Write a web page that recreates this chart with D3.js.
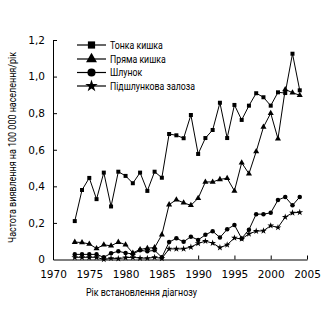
<!DOCTYPE html>
<html><head><meta charset="utf-8">
<script src="https://cdnjs.cloudflare.com/ajax/libs/d3/7.8.5/d3.min.js"></script>
<style>
html,body{margin:0;padding:0;background:#fff;}
svg{display:block;}
text{font-family:Roboto,"Liberation Sans",sans-serif;fill:#000;}
.tick text{font-family:"DejaVu Sans",sans-serif;}
</style></head>
<body>
<script>
const years = d3.range(1973, 2005);
const seriesNames = ["Тонка кишка", "Пряма кишка", "Шлунок", "Підшлункова залоза"];
const tonka = [0.21,0.38,0.446,0.33,0.475,0.29,0.48,0.457,0.417,0.475,0.375,0.48,0.447,0.686,0.679,0.663,0.79,0.577,0.664,0.708,0.857,0.664,0.845,0.763,0.841,0.909,0.887,0.841,0.914,0.91,1.125,0.925];
const pryama = [0.095,0.093,0.085,0.06,0.08,0.075,0.095,0.081,0.036,0.055,0.062,0.065,0.135,0.30,0.327,0.31,0.296,0.335,0.424,0.424,0.438,0.444,0.375,0.529,0.469,0.59,0.724,0.80,0.66,0.93,0.912,0.898];
const shlunok = [0.028,0.028,0.028,0.028,0.012,0.034,0.045,0.036,0.03,0.05,0.045,0.05,0.012,0.095,0.116,0.097,0.125,0.107,0.135,0.155,0.12,0.165,0.189,0.115,0.163,0.248,0.248,0.255,0.325,0.342,0.296,0.342];
const pidshl = [0.012,0.012,0.012,0.012,0.0,0.007,0.005,0.01,0.012,0.008,0.007,0.012,0.006,0.058,0.058,0.058,0.068,0.088,0.10,0.09,0.065,0.08,0.118,0.112,0.14,0.155,0.157,0.185,0.175,0.232,0.255,0.258];
const xTicks = [1970,1975,1980,1985,1990,1995,2000,2005];
const yTicks = [0,0.2,0.4,0.6,0.8,1.0,1.2];
const xTitle = "Рік встановлення діагнозу";
const yTitle = "Частота виявлення на 100 000 населення/рік";

const allSeries = [tonka, pryama, shlunok, pidshl];
const symbols = [d3.symbolSquare, d3.symbolTriangle, d3.symbolCircle, d3.symbolStar];

const W = 330, H = 330;
const svg = d3.select("body").append("svg").attr("width", W).attr("height", H);
const x = d3.scaleLinear().domain([1970, 2005]).range([53, 307]);
const y = d3.scaleLinear().domain([0, 1.2]).range([259.5, 40]);

// axes
const xAxis = d3.axisBottom(x).tickValues(xTicks).tickSizeInner(-4).tickSizeOuter(0).tickPadding(11).tickFormat(d3.format("d"));
const gx = svg.append("g").attr("transform", `translate(0,${y(0)})`).call(xAxis);
gx.selectAll("text").attr("font-size", 10.5);
gx.selectAll("line,path").attr("stroke", "#000");
gx.selectAll(".tick").filter(d => d === 1970).select("line").remove();

const fmtY = d => d === 0 ? "0" : d3.format(".1f")(d).replace(".", ",");
const yAxis = d3.axisLeft(y).tickValues(yTicks).tickSizeInner(-4).tickSizeOuter(0).tickPadding(8).tickFormat(fmtY);
const gy = svg.append("g").attr("transform", `translate(${x(1970)},0)`).call(yAxis);
gy.selectAll("text").attr("font-size", 10.5);
gy.selectAll("line,path").attr("stroke", "#000");
gy.selectAll(".tick").filter(d => d === 0).select("line").remove();

// titles (condensed look via textLength)
svg.append("text").attr("x", 141.5).attr("y", 296).attr("text-anchor", "middle").attr("font-size", 10)
  .attr("textLength", 111).attr("lengthAdjust", "spacingAndGlyphs").text(xTitle);
svg.append("text").attr("transform", `translate(16,147.5) rotate(-90)`).attr("text-anchor", "middle").attr("font-size", 10)
  .attr("textLength", 191).attr("lengthAdjust", "spacingAndGlyphs").text(yTitle);

// lines
const line = d3.line().x((d, i) => x(years[i])).y(d => y(d));
const sizes = [16, 16, 16, 14];
allSeries.forEach((s, k) => {
  svg.append("path").attr("d", line(s)).attr("fill", "none").attr("stroke", "#000").attr("stroke-width", 1);
  svg.append("g").selectAll("path").data(s).join("path")
    .attr("transform", (d, i) => `translate(${x(years[i])},${y(d)})`)
    .attr("d", d3.symbol().type(symbols[k]).size(sizes[k]))
    .attr("fill", "#000");
});

// legend
const legY = [45, 59, 72.5, 86];
const lg = svg.append("g");
const texts = [];
seriesNames.forEach((n, k) => {
  lg.append("line").attr("x1", 77).attr("x2", 106).attr("y1", legY[k]).attr("y2", legY[k]).attr("stroke", "#000").attr("stroke-width", 1.2);
  lg.append("path").attr("transform", `translate(91.5,${legY[k]})`).attr("d", d3.symbol().type(symbols[k]).size(k === 3 ? 48 : 52)).attr("fill", "#000");
  texts.push(lg.append("text").attr("x", 110).attr("y", legY[k]).attr("dy", "0.35em").attr("font-size", 10).text(n));
});
const longest = texts[3].node().getComputedTextLength();
const f = 85 / longest;
texts.forEach(t => {
  const L = t.node().getComputedTextLength();
  t.attr("textLength", L * f).attr("lengthAdjust", "spacingAndGlyphs");
});
</script>
</body></html>
